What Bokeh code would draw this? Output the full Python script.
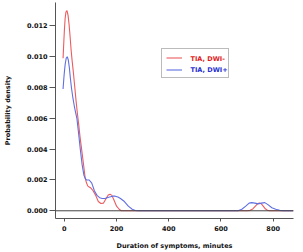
from bokeh.plotting import figure
from bokeh.models import Legend, LegendItem, Label, Span, FixedTicker, NumeralTickFormatter, Range1d
from bokeh.embed import file_html
from bokeh.resources import INLINE

# Kernel density estimates of symptom duration (minutes)
dwi_neg_x = [-5, -2, 0, 3, 6, 10, 14, 18, 22, 26, 30, 35, 40, 45, 50, 55, 60, 66, 72, 80,
             85, 90, 95, 100, 105, 110, 120, 130, 140, 150, 160, 168, 175, 182, 190, 200,
             210, 218, 300, 400, 500, 600, 700, 712, 722, 732, 740, 747, 754, 762, 770,
             778, 786, 878]
dwi_neg_y = [0.0099, 0.0110, 0.0117, 0.0125, 0.0129, 0.0130, 0.0127, 0.0121, 0.0113, 0.0104,
             0.0097, 0.0089, 0.0080, 0.0071, 0.0063, 0.0056, 0.0048, 0.0040, 0.0032, 0.0021,
             0.0018, 0.0016, 0.00155, 0.0015, 0.0014, 0.0013, 0.0010, 0.0006, 0.00047, 0.0005,
             0.0008, 0.00102, 0.00108, 0.0010, 0.0007, 0.0003, 0.0001, 0.0, 0.0, 0.0, 0.0,
             0.0, 0.0, 0.00003, 0.00012, 0.0003, 0.00045, 0.0005, 0.00046, 0.0003, 0.00013,
             0.00004, 0.0, 0.0]

dwi_pos_x = [-5, -2, 0, 3, 7, 11, 15, 19, 23, 27, 32, 38, 44, 48, 54, 61, 68, 75, 80, 85,
             95, 105, 115, 125, 135, 145, 155, 170, 185, 195, 205, 215, 230, 245, 260, 272,
             283, 400, 500, 600, 665, 680, 695, 708, 718, 730, 742, 755, 768, 780, 795, 810,
             825, 840, 878]
dwi_pos_y = [0.0079, 0.0086, 0.0090, 0.0095, 0.0099, 0.0100, 0.0098, 0.0093, 0.0086, 0.0080,
             0.0074, 0.0068, 0.0063, 0.0060, 0.0051, 0.0040, 0.0030, 0.0023, 0.0021, 0.0020,
             0.0020, 0.0018, 0.0013, 0.0010, 0.00085, 0.0008, 0.0008, 0.00088, 0.00095,
             0.00095, 0.0009, 0.0008, 0.0006, 0.0003, 0.0001, 0.00002, 0.0, 0.0, 0.0, 0.0,
             0.0, 0.0001, 0.0003, 0.0005, 0.00053, 0.0005, 0.00045, 0.0005, 0.00053, 0.0004,
             0.0002, 0.0001, 0.00003, 0.0, 0.0]

x_ticks = [0, 200, 400, 600, 800]
y_ticks = [0.000, 0.002, 0.004, 0.006, 0.008, 0.010, 0.012]
series_labels = ["TIA, DWI-", "TIA, DWI+"]

RED = "#ec5b5f"
BLUE = "#5f6fe0"
RED_TEXT = "#e01b1b"
BLUE_TEXT = "#1f2fd0"
FONT = "DejaVu Sans"
AXIS = "#555555"

p = figure(width=303, height=252, output_backend="svg", toolbar_location=None,
           x_range=Range1d(-34, 878), y_range=Range1d(-0.0005, 0.01352),
           min_border_left=50, min_border_right=10, min_border_top=2, min_border_bottom=32)
p.outline_line_color = None
p.xgrid.visible = False
p.ygrid.visible = False
p.background_fill_color = "white"
p.border_fill_color = "white"

p.add_layout(Span(location=0, dimension="width", line_color="#444444", line_width=1))

r_neg = p.line(dwi_neg_x, dwi_neg_y, line_color=RED, line_width=1.1)
r_pos = p.line(dwi_pos_x, dwi_pos_y, line_color=BLUE, line_width=1.1)

for ax in (p.xaxis[0], p.yaxis[0]):
    ax.axis_line_color = AXIS
    ax.major_tick_line_color = AXIS
    ax.minor_tick_line_color = None
    ax.major_tick_in = 0
    ax.major_label_text_font = FONT
    ax.major_label_text_font_style = "bold"
    ax.major_label_text_font_size = "6.5px"
    ax.major_label_text_color = "#111111"
    ax.axis_label_text_font = FONT
    ax.axis_label_text_font_style = "bold"
    ax.axis_label_text_font_size = "6.5px"
    ax.axis_label_text_color = "#111111"

p.xaxis.ticker = FixedTicker(ticks=x_ticks)
p.xaxis.major_tick_out = 3
p.xaxis.major_label_standoff = 4
p.xaxis.axis_label = "Duration of symptoms, minutes"
p.xaxis.axis_label_standoff = 8

p.yaxis.ticker = FixedTicker(ticks=y_ticks)
p.yaxis.formatter = NumeralTickFormatter(format="0.000")
p.yaxis.major_tick_out = 6
p.yaxis.major_label_standoff = 2
p.yaxis.axis_label = "Probability density"
p.yaxis.axis_label_standoff = 12

# Legend frame and swatches; the coloured captions are drawn as separate labels
legend = Legend(items=[LegendItem(label=series_labels[0], renderers=[r_neg]),
                       LegendItem(label=series_labels[1], renderers=[r_pos])],
                location=(106, 140), border_line_color="#777777", border_line_width=1,
                background_fill_alpha=0, padding=4, spacing=4, margin=0,
                glyph_width=16, glyph_height=7, label_height=7, label_standoff=5,
                label_text_font=FONT, label_text_font_style="bold",
                label_text_font_size="6.5px", label_text_alpha=0, label_width=36)
p.add_layout(legend)

for txt, col, yy in ((series_labels[0], RED_TEXT, 160), (series_labels[1], BLUE_TEXT, 149)):
    p.add_layout(Label(x=135, y=yy, x_units="screen", y_units="screen", text=txt,
                       text_color=col, text_font=FONT, text_font_style="bold",
                       text_font_size="6.5px", text_baseline="middle"))

open("out.html", "w").write(file_html(p, INLINE))
